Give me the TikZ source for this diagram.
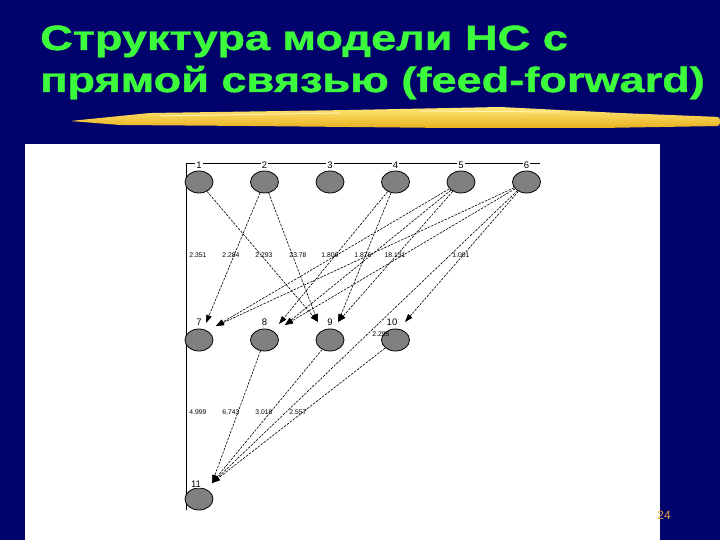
\documentclass[tikz,border=0pt]{standalone}
\usepackage{fontspec}
\setmainfont{Liberation Sans}
\newfontfamily\titlefont{Liberation Sans Bold}[FakeStretch=1.29,FakeBold=1.3]
\usetikzlibrary{shapes.geometric,arrows.meta}
\definecolor{navy}{RGB}{2,2,108}
\definecolor{titlegreen}{RGB}{60,250,60}
\definecolor{gold}{RGB}{232,176,30}
\definecolor{lightgold}{RGB}{255,232,120}
\definecolor{numorange}{RGB}{230,160,60}
\definecolor{nodegray}{RGB}{128,128,128}
\tikzset{
  neuron/.style={ellipse, draw=black, line width=0.8pt, fill=nodegray, minimum width=28pt, minimum height=22pt, inner sep=0pt},
  idx/.style={font=\fontsize{9.5}{9.5}\selectfont, fill=white, inner sep=1pt},
  wt/.style={font=\fontsize{6.8}{6.8}\selectfont, inner sep=0pt},
  link/.style={line width=0.6pt, dash pattern=on 2.5pt off 1.2pt, -{Triangle[length=8pt,width=5.5pt]}},
  titletext/.style={anchor=base west, inner sep=0pt, text=titlegreen, font=\fontsize{35}{35}\titlefont}
}
\begin{document}
\begin{tikzpicture}[x=1pt,y=-1pt]
\useasboundingbox (0,0) rectangle (720,540);
\fill[navy] (0,0) rectangle (720,540);
% title
\node[titletext] (t1) at (40,50) {Структура модели НС с};
\node[titletext] (t2) at (40,92) {прямой связью (feed-forward)};
% brush stroke
\shade[top color=lightgold, bottom color=gold, rounded corners=3pt]
  (70,121) -- (150,113) -- (350,110) -- (500,107) -- (620,113) -- (720,117)
  -- (720,126) -- (600,128) -- (450,128) -- (250,126) -- (120,125) -- cycle;
\draw[lightgold!60!white, line width=1pt] (160,116) -- (340,113);
\draw[lightgold!60!white, line width=1pt] (420,111) -- (560,112);
% white panel
\fill[white] (25,144) rectangle (660,540);
\node[text=numorange, font=\fontsize{12}{12}\selectfont, inner sep=0pt] (pg) at (664,515) {24};
% frame lines
\draw[black, line width=0.8pt] (186,510) -- (186,163) -- (540,163);
% neurons
\node[neuron] (n1) at (199,182) {};
\node[neuron] (n2) at (264.5,182) {};
\node[neuron] (n3) at (330,182) {};
\node[neuron] (n4) at (395.5,182) {};
\node[neuron] (n5) at (461,182) {};
\node[neuron] (n6) at (526.5,182) {};
\node[neuron] (n7) at (199,340) {};
\node[neuron] (n8) at (264.5,340) {};
\node[neuron] (n9) at (330,340) {};
\node[neuron] (n10) at (395.5,340) {};
\node[neuron] (n11) at (199,499) {};
% indices
\node[idx] (l1) at (199,165) {1};
\node[idx] (l2) at (264.5,165) {2};
\node[idx] (l3) at (330,165) {3};
\node[idx] (l4) at (395.5,165) {4};
\node[idx] (l5) at (461,165) {5};
\node[idx] (l6) at (526.5,165) {6};
\node[idx] (l7) at (199,322) {7};
\node[idx] (l8) at (264.5,322) {8};
\node[idx] (l9) at (330,322) {9};
\node[idx] (l10) at (392,322) {10};
\node[idx] (l11) at (196,484) {11};
% weights
\node[wt] (w1) at (198,255) {2.351};
\node[wt] (w2) at (231,255) {2.284};
\node[wt] (w3) at (264,255) {2.293};
\node[wt] (w4) at (298,255) {23.78};
\node[wt] (w5) at (330,255) {1.806};
\node[wt] (w6) at (363,255) {1.876};
\node[wt] (w7) at (395,255) {18.131};
\node[wt] (w8) at (461,255) {1.001};
\node[wt] (w9) at (381,334) {2.295};
\node[wt] (w10) at (198,412) {4.999};
\node[wt] (w11) at (231,412) {6.743};
\node[wt] (w12) at (264,412) {3.018};
\node[wt] (w13) at (298,412) {2.557};
% arrow tips
\coordinate (t7a) at (206,323);
\coordinate (t7b) at (216,326);
\coordinate (t8a) at (279,324);
\coordinate (t8b) at (285,325);
\coordinate (t9a) at (318,322);
\coordinate (t9b) at (338,322);
\coordinate (t10) at (405,322);
\coordinate (t11) at (212,483);
% connections
\draw[link] (n1) -- (t9a);
\draw[link] (n2) -- (t7a);
\draw[link] (n2) -- (t9a);
\draw[link] (n4) -- (t8a);
\draw[link] (n4) -- (t9b);
\draw[link] (n5) -- (t7b);
\draw[link] (n5) -- (t8b);
\draw[link] (n5) -- (t9b);
\draw[link] (n6) -- (t7b);
\draw[link] (n6) -- (t8b);
\draw[link] (n6) -- (t10);
\draw[link] (n6) -- (t11);
\draw[link] (n8) -- (t11);
\draw[link] (n9) -- (t11);
\draw[link] (n10) -- (t11);
\end{tikzpicture}
\end{document}
